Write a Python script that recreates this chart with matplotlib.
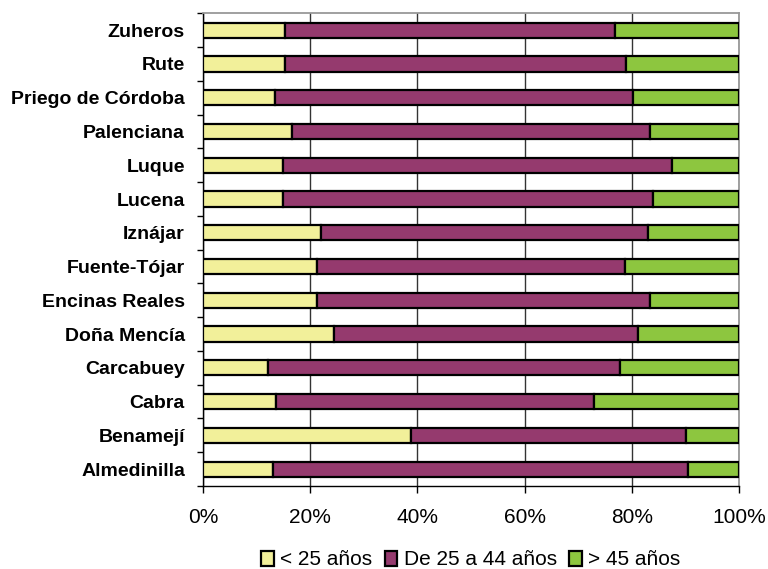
import matplotlib
matplotlib.use("Agg")
import matplotlib.pyplot as plt
import numpy as np

plt.rcParams['font.family'] = ['Liberation Sans', 'DejaVu Sans']

# bottom to top, as drawn
municipios = ["Almedinilla", "Benamejí", "Cabra", "Carcabuey", "Doña Mencía",
              "Encinas Reales", "Fuente-Tójar", "Iznájar", "Lucena", "Luque",
              "Palenciana", "Priego de Córdoba", "Rute", "Zuheros"]
menos_25 = [13.1, 38.9, 13.7, 12.1, 24.4, 21.3, 21.3, 22.0, 15.0, 15.0, 16.6, 13.4, 15.3, 15.3]
de_25_44 = [77.4, 51.3, 59.3, 65.7, 56.8, 62.1, 57.4, 61.1, 69.0, 72.5, 66.8, 66.8, 63.7, 61.5]
mas_45 = [100 - a - b for a, b in zip(menos_25, de_25_44)]

series = [menos_25, de_25_44, mas_45]
nombres = ["< 25 años", "De 25 a 44 años", "> 45 años"]
colores = ["#F2F09A", "#953A6E", "#8DC63F"]

fig = plt.figure(figsize=(7.68, 5.69), dpi=100)
ax = fig.add_axes([0.2643, 0.1459, 0.6979, 0.8307])

y = np.arange(len(municipios))
left = np.zeros(len(municipios))
for vals, nom, col in zip(series, nombres, colores):
    ax.barh(y, vals, left=left, height=0.45, color=col, edgecolor="black",
            linewidth=1.6, label=nom, zorder=3)
    left += np.array(vals)

ax.set_xlim(0, 100)
ax.set_ylim(-0.5, len(municipios) - 0.5)
ax.set_xticks(np.arange(0, 101, 20))
ax.set_xticklabels([f"{v}%" for v in range(0, 101, 20)], fontsize=15)
ax.set_yticks(y)
ax.set_yticklabels(municipios, fontsize=14, fontweight="bold")
ax.set_yticks(np.arange(-0.5, len(municipios), 1), minor=True)
ax.tick_params(axis="y", which="major", length=0, pad=13)
ax.tick_params(axis="y", which="minor", length=4.5, width=1, direction="out")
ax.tick_params(axis="x", which="major", length=5, width=1, direction="out", pad=11)

ax.grid(axis="x", color="#333333", linewidth=1, zorder=0)
for s in ["top", "right"]:
    ax.spines[s].set_color("#999999")
    ax.spines[s].set_linewidth(1.3)
for s in ["left", "bottom"]:
    ax.spines[s].set_color("black")
    ax.spines[s].set_linewidth(1)

fig.legend(loc="center", bbox_to_anchor=(0.613, 0.016), ncol=3, frameon=False,
           fontsize=15, handlelength=0.6, handleheight=0.75, handletextpad=0.3,
           columnspacing=0.6, borderaxespad=0)

fig.savefig("out.png", dpi=100)
